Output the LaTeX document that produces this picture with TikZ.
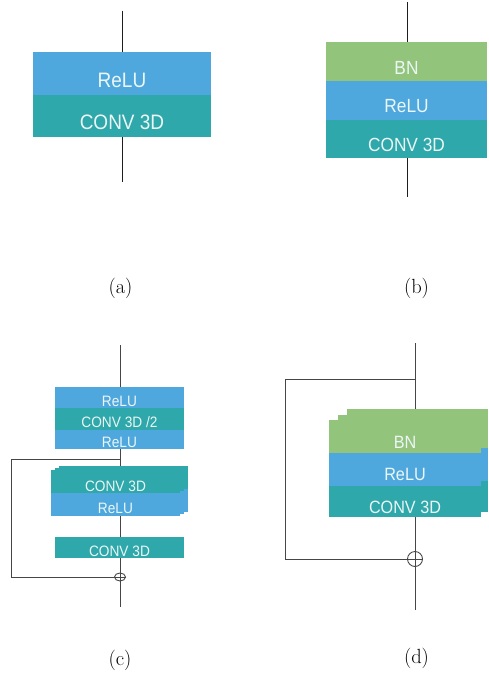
\documentclass[tikz,border=0pt]{standalone}
\usepackage{fontspec}
\newfontfamily\labfont{Liberation Sans}
\usetikzlibrary{shapes.geometric}
\definecolor{bngreen}{RGB}{147,196,124}
\definecolor{relublue}{RGB}{78,168,221}
\definecolor{convteal}{RGB}{46,168,170}
\definecolor{labwhite}{RGB}{236,246,246}
\definecolor{wire}{RGB}{30,30,30}
\definecolor{wiregray}{RGB}{70,70,70}
\newcommand\bandbox[9]{%
  \node[band, fill=#2, minimum width=#5pt, minimum height=#6pt] (#1) at (#3,#4) {};
  \node[lab, font=\labfont\fontsize{#7}{#7}\selectfont] (#1t) at ([yshift=-#8pt]#1.center) {\scalebox{1}[1.1]{#9}};}
\newcommand\backbox[6]{%
  \node[band, fill=#2, minimum width=#5pt, minimum height=#6pt] (#1) at (#3,#4) {};}
\begin{document}
\begin{tikzpicture}[x=1pt,y=-1pt,
  band/.style={rectangle, inner sep=0pt, outer sep=0pt, draw=none},
  lab/.style={inner sep=0pt, text=labwhite},
  captext/.style={inner sep=0pt, font=\fontsize{20.5}{24}\selectfont},
  mainwire/.style={draw=wire, line width=1pt},
  skipwire/.style={draw=wiregray, line width=1pt},
  plus/.style={draw=wiregray, line width=0.9pt, inner sep=0pt, fill=none}]
\useasboundingbox (0,0) rectangle (488,676);
% ---------------- (a)
\coordinate (atop) at (122,11);
\coordinate (abot) at (122,182);
\draw[mainwire] (atop) -- (abot);
\bandbox{arelu}{relublue}{122}{73.5}{178}{43}{19}{6.5}{ReLU}
\bandbox{aconv}{convteal}{122}{116}{178}{42}{19}{6.5}{CONV 3D}
\node[captext] (acap) at (120.5,288) {(a)};
% ---------------- (b)
\coordinate (btop) at (407,2);
\coordinate (bbot) at (407,197);
\draw[mainwire] (btop) -- (bbot);
\bandbox{bbn}{bngreen}{406.5}{61.5}{161}{39}{17.3}{6.5}{BN}
\bandbox{brelu}{relublue}{406.5}{100.5}{161}{39}{17.3}{6}{ReLU}
\bandbox{bconv}{convteal}{406.5}{139}{161}{38}{17.3}{6}{CONV 3D}
\node[captext] (bcap) at (416.5,288) {(b)};
% ---------------- (c)
\coordinate (ctop) at (120,345);
\coordinate (cbot) at (120,607);
\coordinate (csplit) at (120,459);
\coordinate (ccorner1) at (11,459);
\coordinate (ccorner2) at (11,577);
\node[plus, ellipse, minimum width=11pt, minimum height=8pt] (cplus) at (120,577) {};
\draw[skipwire] (ctop) -- (cbot);
\draw[skipwire] (csplit) -- (ccorner1) -- (ccorner2) -- (cplus.east);
\bandbox{crelu1}{relublue}{119.5}{397.5}{129}{21}{13.7}{3.5}{ReLU}
\bandbox{cconv2}{convteal}{119.5}{419}{129}{22}{13.7}{3.5}{CONV 3D /2}
\bandbox{crelu2}{relublue}{119.5}{439.5}{129}{19}{13.7}{3}{ReLU}
% stacked middle block
\backbox{cmbackc}{convteal}{123.5}{477.5}{129}{23}
\backbox{cmbackr}{relublue}{123.5}{500.5}{129}{23}
\backbox{cmmidc}{convteal}{119.5}{479.5}{129}{23}
\backbox{cmmidr}{relublue}{119.5}{502.5}{129}{23}
\bandbox{cmconv}{convteal}{115.5}{481.5}{129}{23}{13.7}{5}{CONV 3D}
\bandbox{cmrelu}{relublue}{115.5}{504.5}{129}{23}{13.7}{4}{ReLU}
\bandbox{cconv3}{convteal}{119.5}{547.5}{129}{21}{13.7}{3.5}{CONV 3D}
\node[captext] (ccap) at (120,660) {(c)};
% ---------------- (d)
\coordinate (dtop) at (415,343);
\coordinate (dbot) at (415,610);
\coordinate (dsplit) at (415,379);
\coordinate (dcorner1) at (285,379);
\coordinate (dcorner2) at (285,559);
\node[plus, circle, minimum size=15pt] (dplus) at (415,559) {};
\draw[skipwire] (dtop) -- (dbot);
\draw[skipwire] (dsplit) -- (dcorner1) -- (dcorner2) -- (dplus.east);
% back layer
\backbox{dbbn}{bngreen}{417.5}{425.5}{141}{33}
\backbox{dbrelu}{relublue}{417.5}{458.5}{141}{33}
\backbox{dbconv}{convteal}{417.5}{490.5}{141}{31}
% middle layer
\backbox{dmbn}{bngreen}{413}{431}{150}{33}
\backbox{dmrelu}{relublue}{413}{464}{150}{33}
\backbox{dmconv}{convteal}{413}{496}{150}{31}
% front layer
\bandbox{dbn}{bngreen}{405}{436.5}{152}{33}{16.2}{5.5}{BN}
\bandbox{drelu}{relublue}{405}{469.5}{152}{33}{16.2}{5}{ReLU}
\bandbox{dconv}{convteal}{405}{501.5}{152}{31}{16.2}{6}{CONV 3D}
\node[captext] (dcap) at (416.5,658) {(d)};
\end{tikzpicture}
\end{document}
